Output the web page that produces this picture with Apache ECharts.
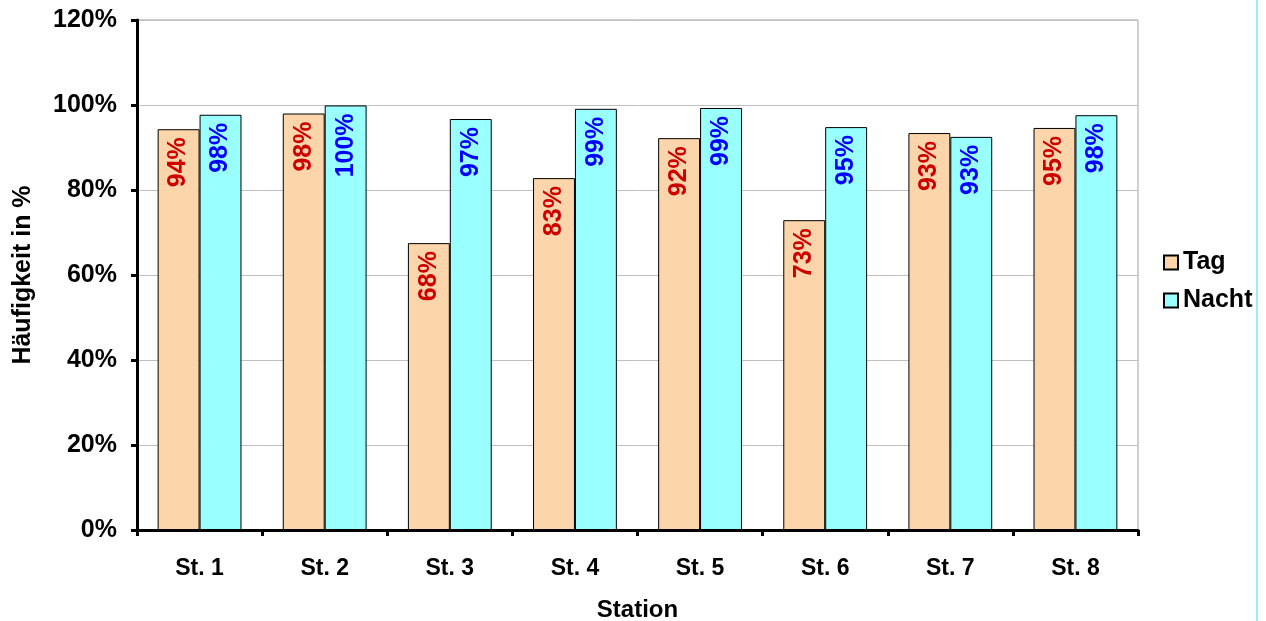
<!DOCTYPE html>
<html>
<head>
<meta charset="utf-8">
<script src="https://cdn.jsdelivr.net/npm/echarts@6/dist/echarts.min.js"></script>
<style>
  html, body { margin: 0; padding: 0; background: #fff; }
  #chart { width: 1266px; height: 621px; }
</style>
</head>
<body>
<div id="chart"></div>
<script>
const stations = ['St. 1', 'St. 2', 'St. 3', 'St. 4', 'St. 5', 'St. 6', 'St. 7', 'St. 8'];
const tag = [94.3, 98.0, 67.5, 82.8, 92.2, 72.9, 93.4, 94.6];
const nacht = [97.7, 99.9, 96.7, 99.1, 99.3, 94.8, 92.5, 97.6];

const font = 'Liberation Sans, Arial, sans-serif';
const chart = echarts.init(document.getElementById('chart'));

function barLabel(color) {
  return {
    show: true,
    position: 'insideTop',
    rotate: 90,
    align: 'right',
    verticalAlign: 'middle',
    distance: 8,
    color: color,
    fontFamily: font,
    fontWeight: 'bold',
    fontSize: 25,
    formatter: (p) => Math.round(p.value) + '%'
  };
}

chart.setOption({
  animation: false,
  graphic: [{
    type: 'line',
    shape: { x1: 1257, y1: 0, x2: 1257, y2: 621 },
    style: { stroke: '#33e0e0', lineWidth: 1 }
  }],
  grid: {
    left: 137, right: 128, top: 20, bottom: 91,
    outerBoundsMode: 'none',
    show: true, borderColor: '#a0a0a0', borderWidth: 1
  },
  legend: {
    orient: 'vertical',
    left: 1158, top: 245,
    itemWidth: 14, itemHeight: 14, itemGap: 13,
    icon: 'rect',
    textStyle: { fontFamily: font, fontWeight: 'bold', fontSize: 25, color: '#000' },
    data: ['Tag', 'Nacht']
  },
  xAxis: {
    type: 'category',
    data: stations,
    name: 'Station',
    nameLocation: 'middle',
    nameGap: 68,
    nameTextStyle: { fontFamily: font, fontWeight: 'bold', fontSize: 24, color: '#000' },
    axisLine: { lineStyle: { color: '#000', width: 3 } },
    axisTick: { show: true, length: 6, lineStyle: { color: '#000', width: 3 } },
    axisLabel: { margin: 27, fontFamily: font, fontWeight: 'bold', fontSize: 23, color: '#000' },
    splitLine: { show: false }
  },
  yAxis: {
    type: 'value',
    min: 0, max: 120, interval: 20,
    name: 'Häufigkeit in %',
    nameLocation: 'middle',
    nameGap: 101,
    nameTextStyle: { fontFamily: font, fontWeight: 'bold', fontSize: 25, color: '#000' },
    axisLine: { show: true, lineStyle: { color: '#000', width: 3 } },
    axisTick: { show: true, length: 6, lineStyle: { color: '#000', width: 3 } },
    axisLabel: { margin: 20, fontFamily: font, fontWeight: 'bold', fontSize: 25, color: '#000', formatter: '{value}%' },
    splitLine: { lineStyle: { color: '#c0c0c0', width: 1 } }
  },
  series: [
    {
      name: 'Tag', type: 'bar', data: tag,
      barGap: '0%', barCategoryGap: '33%',
      itemStyle: { color: '#FCD5AA', borderColor: '#000', borderWidth: 1 },
      label: barLabel('#cc0000')
    },
    {
      name: 'Nacht', type: 'bar', data: nacht,
      barGap: '0%', barCategoryGap: '33%',
      itemStyle: { color: '#99FFFF', borderColor: '#000', borderWidth: 1 },
      label: barLabel('#0000ff')
    }
  ]
});
</script>
</body>
</html>
